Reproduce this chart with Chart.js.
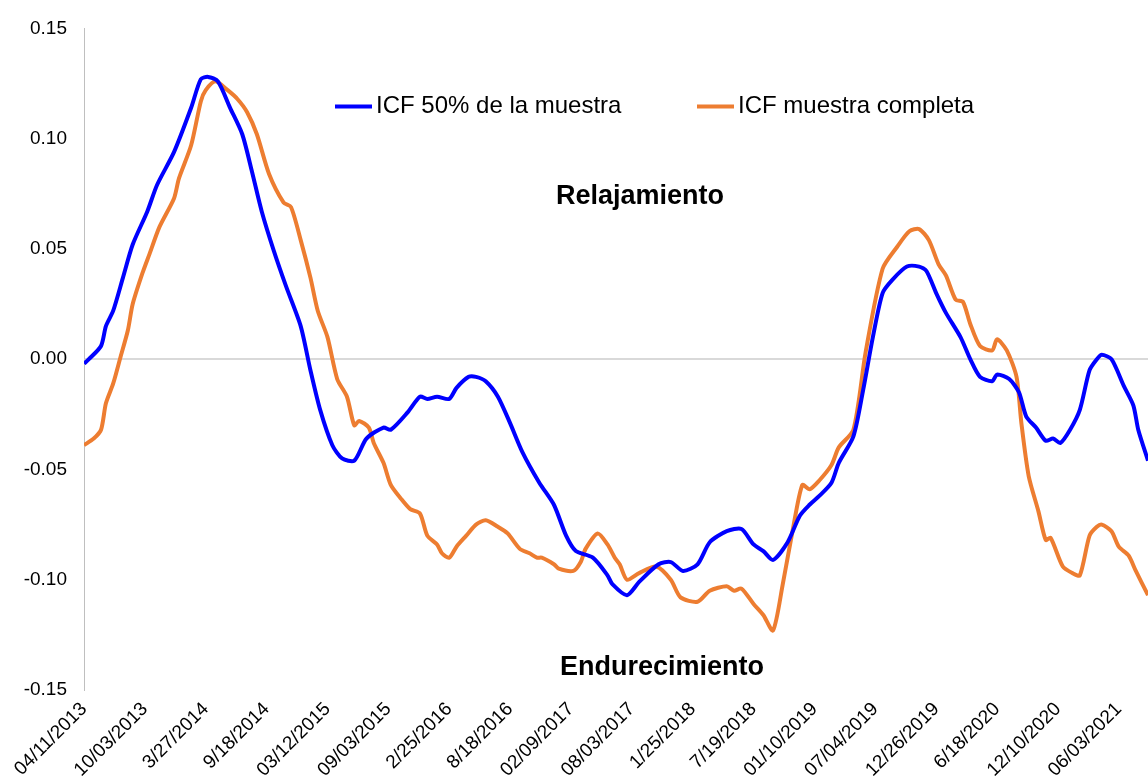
<!DOCTYPE html>
<html>
<head>
<meta charset="utf-8">
<script src="https://cdn.jsdelivr.net/npm/chart.js@4"></script>
<style>
  body { margin: 0; background: #fff; }
  #wrap { width: 1148px; height: 781px; }
</style>
</head>
<body>
<div id="wrap"><canvas id="icfChart"></canvas></div>
<script>
// tick labels, one every 25 weeks starting at 04/11/2013
const etiquetas = ['04/11/2013', '10/03/2013', '3/27/2014', '9/18/2014', '03/12/2015', '09/03/2015',
  '2/25/2016', '8/18/2016', '02/09/2017', '08/03/2017', '1/25/2018', '7/19/2018',
  '01/10/2019', '07/04/2019', '12/26/2019', '6/18/2020', '12/10/2020', '06/03/2021'];

// weeks since start / values
const semanasAzul = [0, 2, 7, 9, 12, 16, 20, 26, 30, 37, 44, 48, 51, 55, 60, 65, 69, 73, 78, 83, 89, 93, 97,
  102, 106, 111, 116, 123, 126, 133, 138, 141, 145, 150, 153, 158, 161, 165, 170, 175, 180, 187, 193, 198,
  202, 209, 215, 217, 223, 228, 236, 241, 246, 252, 257, 264, 270, 275, 279, 283, 289, 294, 298, 302, 307,
  310, 316, 320, 324, 328, 332, 338, 343, 346, 350, 354, 360, 364, 368, 373, 375, 380, 384, 387, 391, 395,
  398, 401, 405, 409, 413, 416, 418, 422, 427, 431, 433, 437];
const icfAzul = [-0.002, 0.000, 0.006, 0.015, 0.022, 0.037, 0.052, 0.067, 0.079, 0.094, 0.114, 0.127, 0.128,
  0.126, 0.114, 0.102, 0.085, 0.067, 0.049, 0.033, 0.015, -0.005, -0.023, -0.039, -0.045, -0.046, -0.036,
  -0.031, -0.032, -0.024, -0.017, -0.018, -0.017, -0.018, -0.013, -0.008, -0.008, -0.010, -0.017, -0.029,
  -0.042, -0.056, -0.066, -0.080, -0.087, -0.090, -0.098, -0.102, -0.107, -0.101, -0.093, -0.092, -0.096,
  -0.093, -0.083, -0.078, -0.077, -0.084, -0.087, -0.091, -0.083, -0.071, -0.066, -0.062, -0.056, -0.047,
  -0.035, -0.014, 0.010, 0.030, 0.036, 0.042, 0.042, 0.040, 0.030, 0.021, 0.010, 0.000, -0.008, -0.010,
  -0.007, -0.009, -0.015, -0.026, -0.031, -0.037, -0.036, -0.038, -0.032, -0.023, -0.005, 0.000, 0.002,
  0.000, -0.012, -0.021, -0.032, -0.046];

const semanasNaranja = [0, 4, 7, 9, 12, 15, 18, 20, 24, 27, 31, 37, 39, 44, 48, 50, 54, 59, 63, 67, 71, 76,
  82, 85, 89, 93, 96, 100, 104, 108, 111, 113, 117, 119, 123, 126, 130, 134, 138, 141, 145, 147, 150, 153,
  157, 161, 165, 170, 174, 179, 183, 186, 188, 193, 195, 201, 204, 206, 211, 215, 218, 220, 223, 228, 235,
  241, 245, 252, 257, 264, 267, 270, 275, 279, 283, 287, 291, 295, 298, 302, 307, 310, 316, 321, 328, 334,
  339, 343, 347, 351, 354, 358, 361, 364, 368, 373, 375, 379, 383, 385, 388, 392, 395, 397, 402, 406, 409,
  413, 416, 418, 422, 425, 429, 432, 437];
const icfNaranja = [-0.039, -0.036, -0.032, -0.020, -0.011, 0.001, 0.013, 0.025, 0.039, 0.048, 0.060, 0.073,
  0.082, 0.097, 0.117, 0.122, 0.126, 0.122, 0.118, 0.112, 0.102, 0.084, 0.071, 0.069, 0.054, 0.037, 0.022,
  0.010, -0.009, -0.017, -0.030, -0.028, -0.031, -0.038, -0.047, -0.057, -0.063, -0.068, -0.070, -0.080,
  -0.084, -0.088, -0.090, -0.085, -0.080, -0.075, -0.073, -0.076, -0.079, -0.086, -0.088, -0.090, -0.090,
  -0.093, -0.095, -0.096, -0.092, -0.086, -0.079, -0.084, -0.090, -0.093, -0.100, -0.097, -0.094, -0.100,
  -0.108, -0.110, -0.105, -0.103, -0.105, -0.104, -0.111, -0.116, -0.123, -0.102, -0.078, -0.057, -0.059,
  -0.055, -0.048, -0.040, -0.032, 0.003, 0.041, 0.051, 0.058, 0.059, 0.054, 0.043, 0.038, 0.027, 0.026,
  0.016, 0.006, 0.004, 0.009, 0.004, -0.008, -0.029, -0.053, -0.069, -0.082, -0.081, -0.094, -0.097, -0.098,
  -0.080, -0.076, -0.075, -0.078, -0.085, -0.089, -0.096, -0.107];

const azul = '#0000FF';
const naranja = '#ED7D31';
const fuente = "'Liberation Sans', Arial, sans-serif";

const puntos = (xs, ys) => xs.map((x, i) => ({ x: x, y: ys[i] }));

// legend + the two captions drawn inside the plot
const textosPlugin = {
  id: 'textos',
  afterDraw(chart) {
    const { ctx, chartArea } = chart;
    const l = chartArea.left, t = chartArea.top;
    ctx.save();
    ctx.lineWidth = 4;
    ctx.font = '24px ' + fuente;
    ctx.textBaseline = 'middle';
    ctx.fillStyle = '#000';
    const yLeg = t + 78;
    [[azul, 251, 'ICF 50% de la muestra'], [naranja, 613, 'ICF muestra completa']].forEach(([c, x0, txt]) => {
      ctx.strokeStyle = c;
      ctx.beginPath();
      ctx.moveTo(l + x0, yLeg);
      ctx.lineTo(l + x0 + 37, yLeg);
      ctx.stroke();
      ctx.fillText(txt, l + x0 + 41, yLeg);
    });
    ctx.font = 'bold 27px ' + fuente;
    ctx.textAlign = 'center';
    ctx.fillText('Relajamiento', l + 556, t + 168);
    ctx.fillText('Endurecimiento', l + 578, t + 639);
    ctx.restore();
  }
};

const ctx = document.getElementById('icfChart').getContext('2d');
new Chart(ctx, {
  type: 'line',
  data: {
    datasets: [
      {
        label: 'ICF 50% de la muestra',
        data: puntos(semanasAzul, icfAzul),
        borderColor: azul,
        borderWidth: 4,
        pointRadius: 0,
        tension: 0.25
      },
      {
        label: 'ICF muestra completa',
        data: puntos(semanasNaranja, icfNaranja),
        borderColor: naranja,
        borderWidth: 4,
        pointRadius: 0,
        tension: 0.25
      }
    ]
  },
  options: {
    responsive: true,
    maintainAspectRatio: false,
    animation: false,
    layout: { padding: { top: 21, right: 0, left: 0, bottom: 0 } },
    plugins: {
      legend: { display: false },
      tooltip: { enabled: false }
    },
    scales: {
      x: {
        type: 'linear',
        min: 0,
        max: 437,
        afterFit: (scale) => { scale.height = 91; },
        grid: { display: false },
        border: { display: false },
        ticks: {
          stepSize: 25,
          includeBounds: false,
          autoSkip: false,
          minRotation: 45,
          maxRotation: 45,
          padding: 0,
          color: '#000',
          font: { family: fuente, size: 19 },
          callback: (v) => etiquetas[Math.round(v / 25)]
        }
      },
      y: {
        min: -0.15,
        max: 0.15,
        afterFit: (scale) => { scale.width = 84; },
        border: { display: true, color: '#BFBFBF', width: 1 },
        grid: {
          drawTicks: false,
          color: (c) => (c.tick && Math.abs(c.tick.value) < 1e-9 ? '#D9D9D9' : 'rgba(0,0,0,0)'),
          lineWidth: 2
        },
        ticks: {
          stepSize: 0.05,
          padding: 17,
          color: '#000',
          font: { family: fuente, size: 19 },
          callback: (v) => v.toFixed(2)
        }
      }
    }
  },
  plugins: [textosPlugin]
});
</script>
</body>
</html>
